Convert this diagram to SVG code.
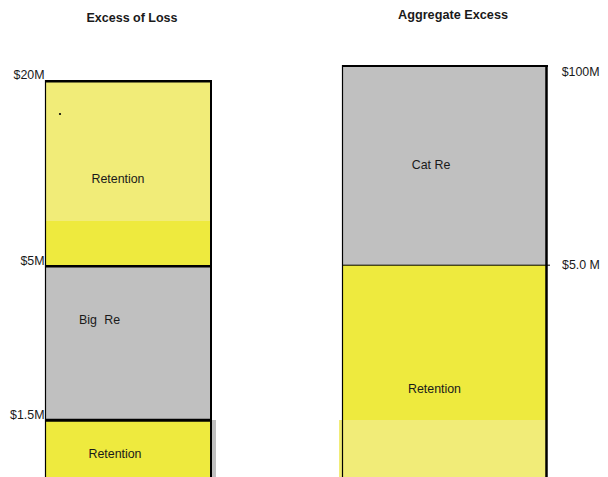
<svg xmlns="http://www.w3.org/2000/svg" width="608" height="477" viewBox="0 0 608 477">
<style>
text{font-family:"Liberation Sans",Arial,sans-serif;fill:#1a1a1a}
.t{font-size:12.5px;font-weight:bold}
.l{font-size:12.4px}
.ly{fill:#F1EC78}
.by{fill:#EEEA3E}
.g{fill:#C0C0C0}
.k{stroke:#000;fill:none}
</style>
<rect width="608" height="477" fill="#fff"/>
<text class="t" x="132" y="21.5" text-anchor="middle">Excess of Loss</text>
<text class="t" x="453" y="19" text-anchor="middle" font-size="11" textLength="110" lengthAdjust="spacingAndGlyphs">Aggregate Excess</text>

<g id="xol">
  <g id="xol-retention-top">
    <rect class="ly" x="45" y="81" width="166" height="140"/>
    <rect class="by" x="45" y="221" width="166" height="45"/>
    <circle cx="60" cy="114" r="1.1" fill="#000"/>
    <text class="l" x="118" y="183" text-anchor="middle">Retention</text>
  </g>
  <g id="xol-bigre">
    <rect class="g" x="45" y="266" width="166" height="154"/>
    <text class="l" x="79" y="324">Big</text>
    <text class="l" x="104.3" y="324">Re</text>
  </g>
  <g id="xol-retention-bottom">
    <rect class="g" x="208" y="420" width="8" height="57"/>
    <rect class="by" x="45" y="420" width="166" height="57"/>
    <text class="l" x="115" y="457.5" text-anchor="middle">Retention</text>
  </g>
  <text class="l" x="44.5" y="79" text-anchor="end">$20M</text>
  <text class="l" x="44.5" y="265" text-anchor="end">$5M</text>
  <text class="l" x="44.5" y="419" text-anchor="end">$1.5M</text>
</g>

<g id="agg">
  <g id="agg-catre">
    <rect class="g" x="342" y="66" width="205" height="199"/>
    <text class="l" x="431" y="169" text-anchor="middle">Cat Re</text>
  </g>
  <g id="agg-retention">
    <rect class="by" x="342" y="265" width="205" height="155"/>
    <rect class="ly" x="339" y="420" width="208" height="57"/>
    <text class="l" x="434.5" y="392.5" text-anchor="middle">Retention</text>
  </g>
  <text class="l" x="561.7" y="75.7">$100M</text>
  <text class="l" x="562" y="268.7">$5.0 M</text>
</g>

<g id="connectors">
  <path class="k" stroke-width="2.5" d="M45 81.2H212"/>
  <path class="k" stroke-width="2.5" d="M45 266.3H211.5"/>
  <path class="k" stroke-width="3" d="M45 420.2H211.5"/>
  <path class="k" stroke-width="1.2" d="M45.5 80V477"/>
  <path class="k" stroke-width="2" d="M211 80V477"/>
  <path class="k" stroke-width="2" d="M342 66H548"/>
  <path class="k" stroke-width="1.2" d="M342.5 65V477"/>
  <path class="k" stroke-width="2.5" d="M546.5 65V477"/>
  <path class="k" stroke-width="1" d="M342 265.2H550"/>
</g>
</svg>
